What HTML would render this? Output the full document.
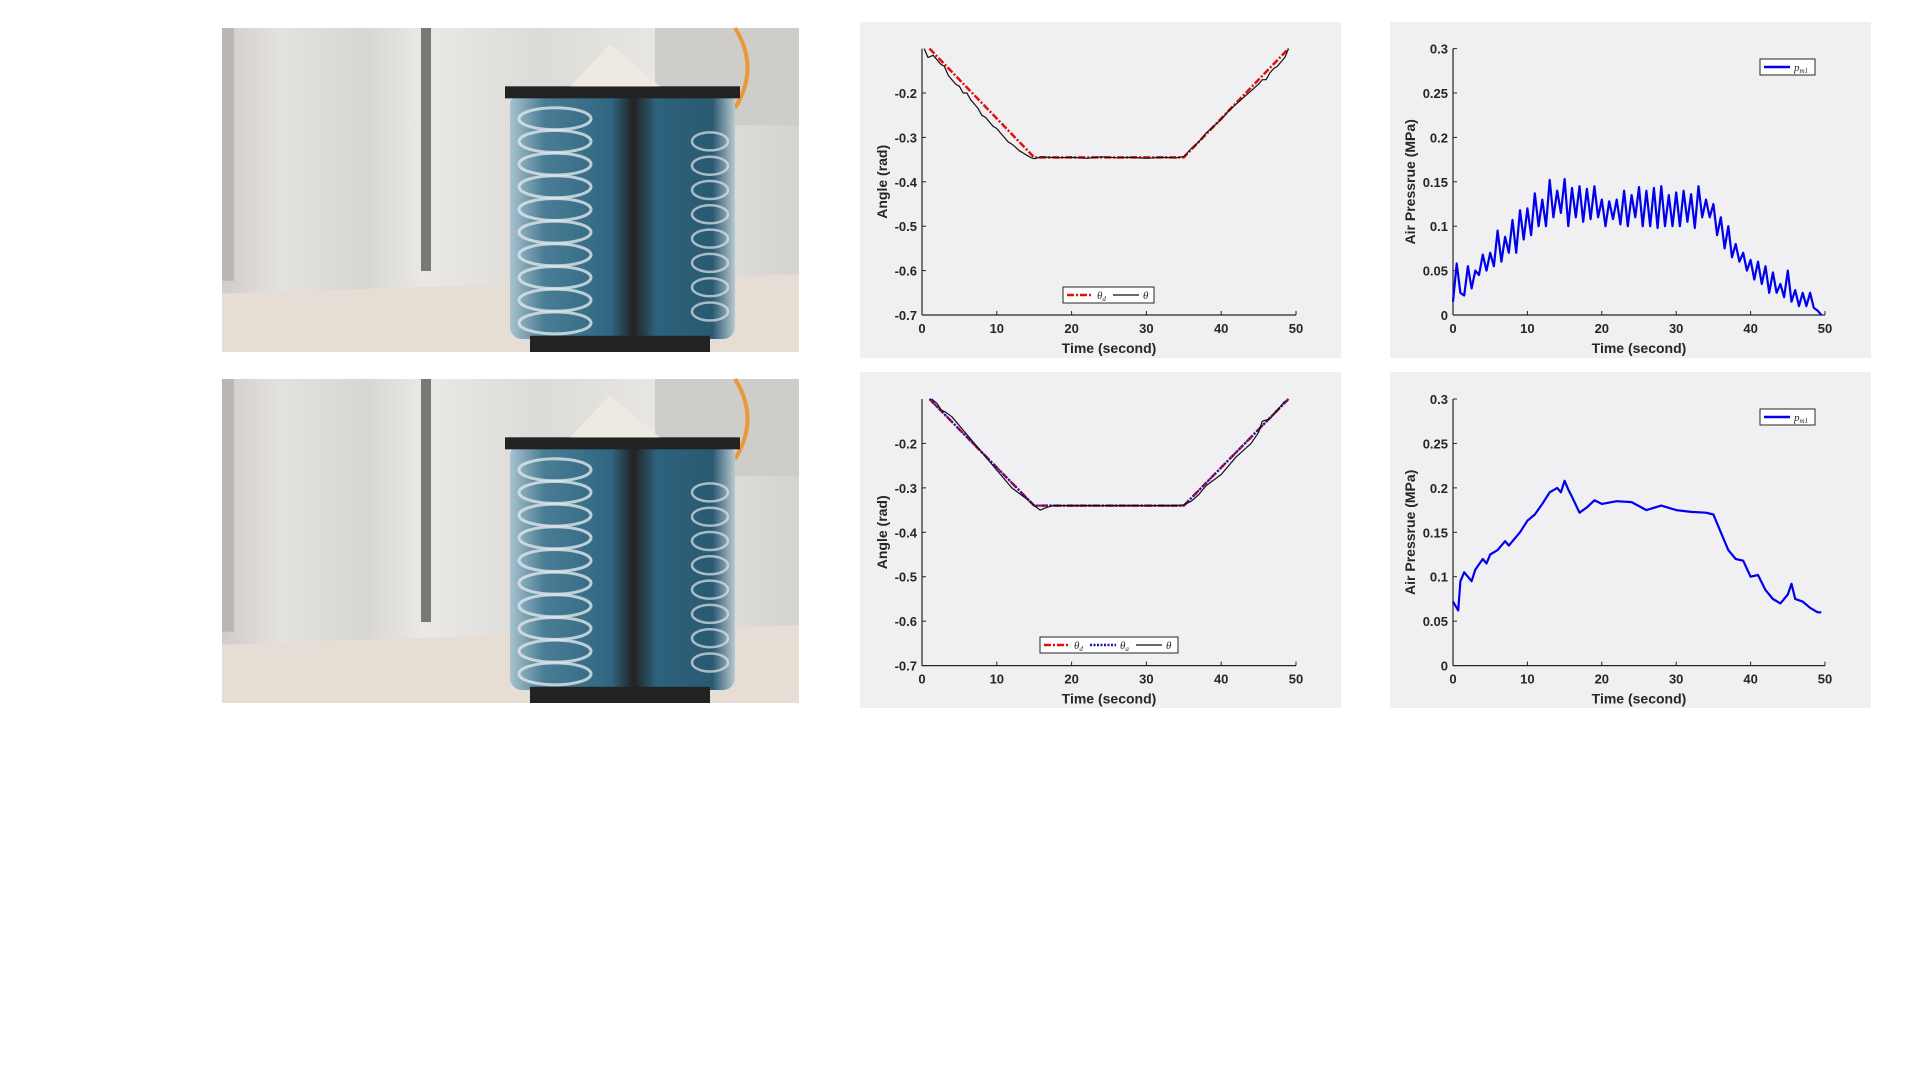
<!DOCTYPE html>
<html><head><meta charset="utf-8"><style>
html,body{margin:0;padding:0;background:#fff;width:1920px;height:1080px;overflow:hidden;font-family:"Liberation Sans",sans-serif}
svg{position:absolute;left:0;top:0}
</style></head><body>
<svg id="s" width="1920" height="1080" xmlns="http://www.w3.org/2000/svg">
<defs>
<linearGradient id="cur" x1="0" x2="1" y1="0" y2="0">
<stop offset="0" stop-color="#cfccc9"/><stop offset="0.1" stop-color="#e4e2df"/><stop offset="0.25" stop-color="#d8d6d3"/><stop offset="0.35" stop-color="#ebe9e6"/><stop offset="0.55" stop-color="#dddbd8"/><stop offset="0.75" stop-color="#e8e6e3"/><stop offset="1" stop-color="#d5d3d0"/></linearGradient>
<linearGradient id="col" x1="0" x2="1"><stop offset="0" stop-color="#a8c2cf"/><stop offset="0.15" stop-color="#4a7d95"/><stop offset="0.45" stop-color="#2f6681"/><stop offset="0.55" stop-color="#222"/><stop offset="0.65" stop-color="#2d627c"/><stop offset="0.9" stop-color="#2a5a72"/><stop offset="1" stop-color="#b9c9d0"/></linearGradient>
</defs>
</svg>
<script>
const S=document.getElementById('s');const NS='http://www.w3.org/2000/svg';
function mk(tag,attrs,parent,text){const e=document.createElementNS(NS,tag);for(const k in attrs)e.setAttribute(k,attrs[k]);if(text!==undefined)e.textContent=text;(parent||S).appendChild(e);return e;}

// ---- data ----
const angleTicks=[-0.2,-0.3,-0.4,-0.5,-0.6,-0.7];
const pressTicks=[0,0.05,0.1,0.15,0.2,0.25,0.3];
const timeTicks=[0,10,20,30,40,50];
const refTime=[1,15,35,49];
const refAngle1=[-0.1,-0.345,-0.345,-0.1];
const refAngle2=[-0.1,-0.34,-0.34,-0.1];
const thetaTime1=[0.3,0.8,1.5,2.5,3,3.5,4,4.5,5,5.5,6,6.5,7,7.5,8,8.5,9,9.5,10,10.5,11,11.5,12,12.5,13,13.5,14,14.5,15,16,18,20,22,24,26,28,30,32,34,35,36,37,38,39,40,41,42,43,44,45,45.5,46,46.5,47,47.5,48,48.5,49];
const thetaVal1=[-0.1,-0.12,-0.115,-0.135,-0.14,-0.16,-0.17,-0.18,-0.185,-0.2,-0.2,-0.215,-0.225,-0.235,-0.25,-0.255,-0.265,-0.275,-0.28,-0.29,-0.3,-0.31,-0.315,-0.322,-0.33,-0.335,-0.34,-0.345,-0.348,-0.344,-0.346,-0.345,-0.347,-0.344,-0.346,-0.345,-0.347,-0.345,-0.346,-0.343,-0.325,-0.31,-0.29,-0.275,-0.26,-0.24,-0.225,-0.21,-0.195,-0.18,-0.17,-0.17,-0.155,-0.145,-0.14,-0.13,-0.12,-0.1];
const thetaTime2=[1.3,2,2.6,3.2,4,6,8,10,12,14,15,15.8,16.5,17.5,20,25,30,34,35,36,37,38,40,42,44,45,45.5,46.5,47.5,48.5];
const thetaVal2=[-0.1,-0.11,-0.125,-0.13,-0.14,-0.18,-0.22,-0.26,-0.3,-0.325,-0.34,-0.35,-0.345,-0.34,-0.34,-0.34,-0.34,-0.34,-0.338,-0.33,-0.315,-0.295,-0.27,-0.23,-0.2,-0.175,-0.15,-0.145,-0.125,-0.105];
const pTime1=[];for(let i=0;i<=99;i++)pTime1.push(i*0.5);
const pVal1=[0.015,0.058,0.025,0.022,0.055,0.03,0.05,0.045,0.068,0.05,0.07,0.055,0.095,0.06,0.088,0.07,0.107,0.07,0.118,0.085,0.12,0.09,0.137,0.1,0.13,0.1,0.152,0.11,0.14,0.115,0.153,0.1,0.143,0.11,0.145,0.105,0.142,0.108,0.145,0.11,0.13,0.1,0.128,0.108,0.13,0.102,0.14,0.1,0.135,0.11,0.144,0.1,0.14,0.1,0.143,0.098,0.145,0.1,0.135,0.1,0.138,0.1,0.14,0.105,0.136,0.098,0.145,0.11,0.13,0.11,0.125,0.09,0.11,0.075,0.1,0.065,0.08,0.06,0.07,0.05,0.062,0.04,0.06,0.035,0.055,0.025,0.048,0.025,0.035,0.02,0.05,0.015,0.028,0.01,0.025,0.01,0.025,0.008,0.005,0.0];
const pTime2=[0,0.7,1,1.5,2,2.5,3,4,4.5,5,6,7,7.5,8,9,10,11,12,13,14,14.5,15,15.5,16,17,18,19,20,22,24,26,28,30,32,34,35,36,37,38,39,40,41,42,43,44,45,45.5,46,47,48,49,49.5];
const pVal2=[0.072,0.062,0.095,0.105,0.1,0.095,0.108,0.12,0.115,0.125,0.13,0.14,0.135,0.14,0.15,0.163,0.17,0.182,0.195,0.2,0.195,0.208,0.198,0.19,0.172,0.178,0.186,0.182,0.185,0.184,0.175,0.18,0.175,0.173,0.172,0.17,0.15,0.13,0.12,0.118,0.1,0.102,0.085,0.075,0.07,0.08,0.092,0.075,0.072,0.065,0.06,0.06];

// ---- photos ----
function photo(y,h,name){
 const g=mk('g',{});
 mk('rect',{x:222,y:y,width:577,height:h,fill:'url(#cur)'},g);
 mk('rect',{x:222,y:y,width:12,height:h*0.78,fill:'#b9b7b4'},g);
 mk('rect',{x:421,y:y,width:10,height:h*0.75,fill:'#7a7873'},g);
 mk('rect',{x:655,y:y,width:144,height:h*0.3,fill:'#cfcdca'},g);
 mk('path',{d:`M222 ${y+h*0.82} L799 ${y+h*0.76} L799 ${y+h} L222 ${y+h} Z`,fill:'#e6ddd4'},g);
 mk('path',{d:`M735 ${y} Q760 ${y+40} 735 ${y+80}`,stroke:'#e89a3a','stroke-width':4,fill:'none'},g);
 mk('rect',{x:510,y:y+h*0.2,width:225,height:h*0.76,rx:12,fill:'url(#col)'},g);
 mk('rect',{x:505,y:y+h*0.18,width:235,height:12,fill:'#222'},g);
 mk('path',{d:`M570 ${y+h*0.18} L610 ${y+h*0.05} L660 ${y+h*0.18} Z`,fill:'#eeeae2'},g);
 mk('rect',{x:530,y:y+h*0.95,width:180,height:h*0.05,fill:'#222'},g);
 for(let i=0;i<10;i++){mk('ellipse',{cx:555,cy:y+h*(0.28+i*0.07),rx:36,ry:11,fill:'none',stroke:'#e0e6ea','stroke-width':3,opacity:0.8},g);}
 for(let i=0;i<8;i++){mk('ellipse',{cx:710,cy:y+h*(0.35+i*0.075),rx:18,ry:9,fill:'none',stroke:'#e0e6ea','stroke-width':2.5,opacity:0.7},g);}
}
photo(28,324,'robot-photo-top');photo(379,324,'robot-photo-bottom');

// ---- chart helper ----
function chart(o){
 const g=mk('g',{});
 mk('rect',{x:o.px,y:o.py,width:481,height:336,fill:'#f0eff1'},g);
 const sx=t=>o.x0+(t-0)/(50)*(o.x1-o.x0);
 const sy=v=>o.yb+(v-o.vmin)/(o.vmax-o.vmin)*(o.yt-o.yb);
 mk('line',{x1:o.x0,y1:o.yb,x2:o.x1,y2:o.yb,stroke:'#262626','stroke-width':1.2},g);
 mk('line',{x1:o.x0,y1:o.yb,x2:o.x0,y2:o.yt,stroke:'#262626','stroke-width':1.2},g);
 timeTicks.forEach(t=>{mk('line',{x1:sx(t),y1:o.yb,x2:sx(t),y2:o.yb-4,stroke:'#262626'},g);
  const tx=mk('text',{x:sx(t),y:o.yb+18,'text-anchor':'middle','font-size':13,'font-weight':'bold',fill:'#262626'},g,String(t));
  });
 o.ticks.forEach(v=>{mk('line',{x1:o.x0,y1:sy(v),x2:o.x0+4,y2:sy(v),stroke:'#262626'},g);
  const tx=mk('text',{x:o.x0-5,y:sy(v)+5,'text-anchor':'end','font-size':13,'font-weight':'bold',fill:'#262626'},g,String(v));
  });
 const xl=mk('text',{x:(o.x0+o.x1)/2,y:o.yb+38,'text-anchor':'middle','font-size':14,'font-weight':'bold',fill:'#262626'},g,'Time (second)');
 
 const yc=(o.yb+o.yt)/2;
 const yl=mk('text',{x:o.ylx,y:yc,'text-anchor':'middle','font-size':14,'font-weight':'bold',fill:'#262626',transform:`rotate(-90 ${o.ylx} ${yc})`},g,o.ylabel);
 
 o.series.forEach(s=>{
  const d=s.t.map((t,i)=>(i?'L':'M')+sx(t).toFixed(1)+' '+sy(s.v[i]).toFixed(1)).join(' ');
  const p=mk('path',{d:d,fill:'none',stroke:s.c,'stroke-width':s.w,'stroke-dasharray':s.dash||'none','stroke-linejoin':'round'},g);
  
 });
 const L=o.legend;
 const lg=mk('g',{},g);
 mk('rect',{x:L.x,y:L.y,width:L.w,height:16,fill:'#fff',stroke:'#262626','stroke-width':1},lg);
 let cx=L.x+4;
 L.items.forEach(it=>{
  mk('line',{x1:cx,y1:L.y+8,x2:cx+26,y2:L.y+8,stroke:it.c,'stroke-width':it.w,'stroke-dasharray':it.dash||'none'},lg);
  const tx=mk('text',{x:cx+30,y:L.y+12,'font-size':11,'font-style':'italic','font-family':'Liberation Serif,serif',fill:'#262626'},lg);
  tx.textContent=it.sym;
  if(it.sub){mk('tspan',{'font-size':7,dy:2},tx,it.sub);}
  
  cx+=it.step;
 });
}
const angleBase={vmin:-0.7,vmax:-0.1,ticks:angleTicks,ylabel:'Angle (rad)',px:860,x0:922,x1:1296,ylx:887};
const pressBase={vmin:0,vmax:0.3,ticks:pressTicks,ylabel:'Air Pressrue (MPa)',px:1390,x0:1453,x1:1825,ylx:1415};
chart(Object.assign({},angleBase,{name:'angle-chart-top',py:22,yb:315,yt:48.6,
 series:[{name:'theta-d-line',t:refTime,v:refAngle1,c:'#e01010',w:2.5,dash:'7 2 2 2'},{name:'theta-line',t:thetaTime1,v:thetaVal1,c:'#111',w:1.2}],
 legend:{x:1063,y:287,w:91,items:[{c:'#e01010',w:2.5,dash:'7 2 2 2',sym:'θ',sub:'d',step:46},{c:'#111',w:1.2,sym:'θ',step:40}]}}));
chart(Object.assign({},pressBase,{name:'pressure-chart-top',py:22,yb:315,yt:48.6,
 series:[{name:'pressure-line',t:pTime1,v:pVal1,c:'#0000ee',w:2.2}],
 legend:{x:1760,y:59,w:55,items:[{c:'#0000ee',w:2.5,sym:'p',sub:'m1',step:40}]}}));
chart(Object.assign({},angleBase,{name:'angle-chart-bottom',py:372,yb:665.6,yt:399,
 series:[{name:'theta-d-line',t:refTime,v:refAngle2,c:'#e01010',w:2.5,dash:'7 2 2 2'},{name:'theta-a-line',t:refTime,v:refAngle2,c:'#1010cc',w:2,dash:'2 1.5'},{name:'theta-line',t:thetaTime2,v:thetaVal2,c:'#111',w:1.2}],
 legend:{x:1040,y:637,w:138,items:[{c:'#e01010',w:2.5,dash:'7 2 2 2',sym:'θ',sub:'d',step:46},{c:'#1010cc',w:2.5,dash:'2 1.5',sym:'θ',sub:'a',step:46},{c:'#111',w:1.2,sym:'θ',step:40}]}}));
chart(Object.assign({},pressBase,{name:'pressure-chart-bottom',py:372,yb:665.6,yt:399,
 series:[{name:'pressure-line',t:pTime2,v:pVal2,c:'#0000ee',w:2.2}],
 legend:{x:1760,y:409,w:55,items:[{c:'#0000ee',w:2.5,sym:'p',sub:'m1',step:40}]}}));
</script>
</body></html>
